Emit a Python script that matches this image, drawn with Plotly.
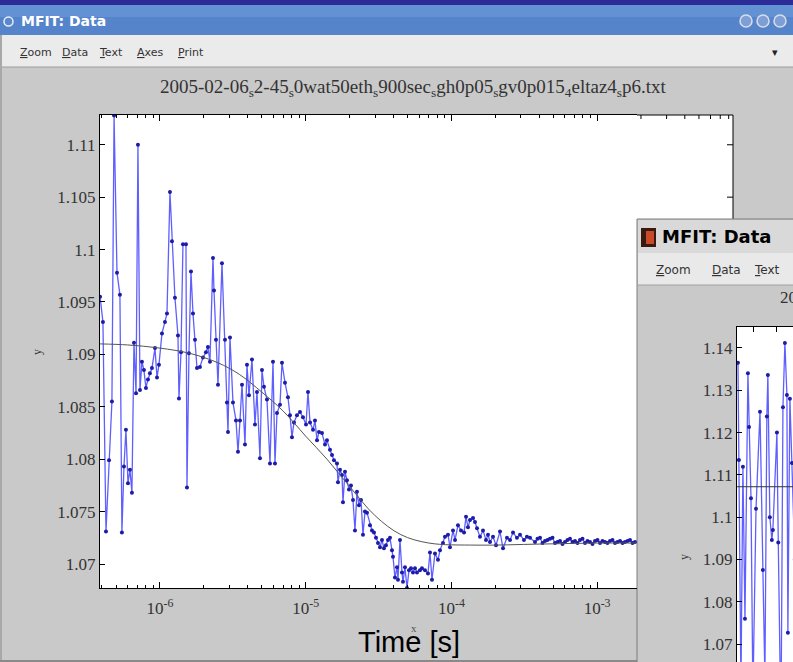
import math
import plotly.graph_objects as go

W, H = 793, 662

# ---------------- data (lag time in microseconds, correlation value) ----------------
t_us = [0.388, 0.406, 0.426, 0.447, 0.468, 0.484, 0.507, 0.531, 0.548, 0.566, 0.584, 0.603,
        0.622, 0.642, 0.663, 0.685, 0.706, 0.729, 0.752, 0.776, 0.801, 0.827, 0.853, 0.881,
        0.924, 0.954, 0.984, 1.032, 1.082, 1.117, 1.171, 1.209, 1.267, 1.329, 1.350, 1.394,
        1.438, 1.508, 1.532, 1.581, 1.632, 1.685, 1.739, 1.795, 1.881, 1.972, 2.068, 2.134,
        2.203, 2.311, 2.348, 2.423, 2.501, 2.664, 2.794, 2.883, 2.929, 3.023, 3.170, 3.324,
        3.431, 3.541, 3.655, 3.832, 3.955, 4.082, 4.280, 4.487, 4.631, 4.857, 5.012, 5.173,
        5.424, 5.689, 5.965, 6.156, 6.354, 6.663, 6.876, 7.210, 7.560, 7.803, 8.053, 8.312,
        8.716, 9.139, 9.583, 10.05, 10.37, 10.71, 11.23, 11.58, 11.96, 12.34, 12.94, 13.57,
        14.00, 14.68, 15.16, 15.64, 16.40, 16.66, 17.20, 17.75, 18.03, 18.61, 19.20, 19.82,
        20.46, 21.12, 21.79, 22.49, 23.22, 23.97, 24.73, 25.53, 26.35, 27.62, 28.51, 29.43,
        30.37, 31.35, 32.36, 33.39, 34.46, 35.57, 36.71, 37.89, 39.11, 39.73, 41.01, 42.32,
        43.00, 44.38, 45.81, 46.54, 48.03, 49.57, 51.16, 52.81, 54.50, 56.25, 58.06, 60.88,
        62.84, 65.88, 69.08, 71.30, 73.59, 77.16, 80.91, 83.51, 87.57, 90.38, 94.77, 97.81,
        102.6, 105.9, 111.0, 116.4, 122.1, 126.0, 130.0, 134.2, 140.7, 145.2, 149.9, 157.1,
        164.8, 172.8, 178.3, 184.1, 193.0, 202.4, 215.6, 226.1, 240.7, 252.5, 264.8, 281.8,
        295.7, 314.8, 330.1, 346.4,
        374.8, 390.0, 405.7, 422.0, 438.9, 456.5, 475.1, 494.1, 514.0, 534.6,
        556.4, 578.7, 602.1, 626.2, 651.6, 677.7, 705.2, 733.5, 763.2, 793.8,
        826.0, 859.1, 894.0, 929.8, 967.4, 1006, 1047, 1089, 1133, 1178,
        1226, 1275, 1327, 1380, 1436, 1494, 1554, 1617, 1682, 1750, 1820]
g2 = [1.0955, 1.0931, 1.0731, 1.0799, 1.0855, 1.1128, 1.0978, 1.0957, 1.0730, 1.0793, 1.0828, 1.0777,
      1.0790, 1.0768, 1.0911, 1.0863, 1.1100, 1.0866, 1.0893, 1.0885, 1.0868, 1.0876, 1.0882, 1.0887,
      1.0906, 1.0878, 1.0890, 1.0920, 1.0931, 1.0939, 1.1055, 1.1008, 1.0954, 1.0918, 1.0858, 1.0902,
      1.1005, 1.1005, 1.0773, 1.0901, 1.0979, 1.0939, 1.0914, 1.0887, 1.0888, 1.0897, 1.0902, 1.0907,
      1.0893, 1.0992, 1.0961, 1.0914, 1.0871, 1.0987, 1.0914, 1.0854, 1.0826, 1.0916, 1.0854, 1.0837,
      1.0807, 1.0837, 1.0871, 1.0814, 1.0890, 1.0861, 1.0895, 1.0833, 1.0864, 1.0801, 1.0885, 1.0869,
      1.0857, 1.0796, 1.0893, 1.0796, 1.0844, 1.0852, 1.0892, 1.0873, 1.0859, 1.0842, 1.0821, 1.0835,
      1.0842, 1.0845, 1.0840, 1.0833, 1.0864, 1.0835, 1.0828, 1.0837, 1.0818, 1.0826, 1.0825, 1.0814,
      1.0818, 1.0809, 1.0804, 1.0799, 1.0796, 1.0778, 1.0790, 1.0785, 1.0759, 1.0788, 1.0780, 1.0771,
      1.0775, 1.0761, 1.0732, 1.0769, 1.0756, 1.0761, 1.0728, 1.0750, 1.0749, 1.0737, 1.0732, 1.0730,
      1.0725, 1.0720, 1.0716, 1.0723, 1.0715, 1.0718, 1.0723, 1.0725, 1.0713, 1.0707, 1.0687, 1.0697,
      1.0685, 1.0723, 1.0692, 1.0683, 1.0697, 1.0677, 1.0694, 1.0696, 1.0692, 1.0696, 1.0692, 1.0694,
      1.0696, 1.0694, 1.0691, 1.0711, 1.0685, 1.0710, 1.0704, 1.0713, 1.0720, 1.0726, 1.0728, 1.0716,
      1.0732, 1.0723, 1.0737, 1.0732, 1.0730, 1.0745, 1.0735, 1.0742, 1.0744, 1.0740, 1.0734, 1.0726,
      1.0732, 1.0723, 1.0728, 1.0721, 1.0726, 1.0718, 1.0731, 1.0715, 1.0725, 1.0723, 1.0730, 1.0725,
      1.0728, 1.0723, 1.0726, 1.0725,
      1.0721, 1.0724, 1.0725, 1.0720, 1.0722, 1.0723, 1.0724, 1.0725, 1.0720, 1.0721,
      1.0722, 1.0719, 1.0721, 1.0723, 1.0724, 1.0721, 1.0722, 1.0720, 1.0723, 1.0724,
      1.0720, 1.0722, 1.0721, 1.0719, 1.0722, 1.0723, 1.0720, 1.0722, 1.0721, 1.0720,
      1.0722, 1.0723, 1.0720, 1.0721, 1.0722, 1.0720, 1.0721, 1.0722, 1.0723, 1.0720, 1.0721]

fit_t_us = [0.388, 0.6, 1.0, 1.6, 2.5, 3.5, 5.0, 7.0, 10, 14, 20, 30, 45, 70, 150, 400, 1000, 1850]
fit_g2 = [1.0910, 1.0909, 1.0906, 1.0901, 1.0892, 1.0881, 1.0864, 1.0846, 1.0822, 1.0800, 1.0774,
          1.0746, 1.0728, 1.0720, 1.0718, 1.0719, 1.0720, 1.0720]

inset_t_us = [0.394, 0.400, 0.413, 0.426, 0.440, 0.461, 0.469, 0.484, 0.499, 0.524, 0.558, 0.584,
              0.603, 0.622, 0.632, 0.652, 0.673, 0.684, 0.729, 0.745, 0.777, 0.802, 0.827, 0.854,
              0.867, 0.895, 0.924, 0.968]
inset_g2 = [1.1365, 1.1135, 1.0600, 1.1119, 1.0760, 1.1340, 1.1213, 1.1045, 1.0580, 1.1020, 1.1249, 1.0875,
            1.0620, 1.1238, 1.1336, 1.1000, 1.0946, 1.0970, 1.1200, 1.0940, 1.0500, 1.1260, 1.1412, 1.1289,
            1.0727, 1.1280, 1.1128, 1.0900]
inset_fit_t_us = [0.388, 0.95]
inset_fit_g2 = [1.1072, 1.1072]

main_yticks = [1.07, 1.075, 1.08, 1.085, 1.09, 1.095, 1.1, 1.105, 1.11]
main_yticktext = ["1.07", "1.075", "1.08", "1.085", "1.09", "1.095", "1.1", "1.105", "1.11"]
main_xticks = [1e-6, 1e-5, 1e-4, 1e-3]
main_xticktext = ["10<sup>-6</sup>", "10<sup>-5</sup>", "10<sup>-4</sup>", "10<sup>-3</sup>"]
inset_yticks = [1.07, 1.08, 1.09, 1.1, 1.11, 1.12, 1.13, 1.14]
inset_yticktext = ["1.07", "1.08", "1.09", "1.1", "1.11", "1.12", "1.13", "1.14"]
menu_items = ["Zoom", "Data", "Text", "Axes", "Print"]
file_title = ("2005-02-06<sub>s</sub>2-45<sub>s</sub>0wat50eth<sub>s</sub>900sec<sub>s</sub>gh0p05"
              "<sub>s</sub>gv0p015<sub>4</sub>eltaz4<sub>s</sub>p6.txt")

# ---------------- layout geometry (pixels) ----------------
def px(x):
    return x / W

def py(y):
    return 1 - y / H

MAIN_L, MAIN_R_VIS, MAIN_R, MAIN_T, MAIN_B = 100, 637, 733, 115, 588
INS_X, INS_Y = 637, 219
INS_PL, INS_PT = 737, 327

x_lo = math.log10(0.3876e-6)
x_hi = -6 + (MAIN_R_VIS - 160) / 145.7
y_lo, y_hi = 1.06771, 1.11284
ix_lo = math.log10(0.388e-6)
ix_hi = ix_lo + (W - INS_PL) / 145.7
iy_lo, iy_hi = 1.06577, 1.14496

GRAY = "#c9c9c9"
serif = "Liberation Serif, Times New Roman, serif"
sans = "DejaVu Sans, Noto Sans, sans-serif"

fig = go.Figure()
fig.add_trace(go.Scatter(x=[v * 1e-6 for v in t_us], y=g2, mode="lines+markers",
                         line=dict(color="rgb(95,95,255)", width=1.3),
                         marker=dict(color="#1c1ca8", size=4), xaxis="x", yaxis="y",
                         showlegend=False))
fig.add_trace(go.Scatter(x=[v * 1e-6 for v in fit_t_us], y=fit_g2, mode="lines",
                         line=dict(color="#555555", width=1, shape="spline"), xaxis="x", yaxis="y",
                         showlegend=False))
fig.add_trace(go.Scatter(x=[v * 1e-6 for v in inset_t_us], y=inset_g2, mode="lines+markers",
                         line=dict(color="rgb(95,95,255)", width=1.3),
                         marker=dict(color="#1c1ca8", size=4), xaxis="x2", yaxis="y2",
                         showlegend=False))
fig.add_trace(go.Scatter(x=[v * 1e-6 for v in inset_fit_t_us], y=inset_fit_g2, mode="lines",
                         line=dict(color="#333333", width=1), xaxis="x2", yaxis="y2",
                         showlegend=False))

shapes = []
def rect(x0, y0, x1, y1, fill, line=None, lw=0):
    shapes.append(dict(type="rect", xref="paper", yref="paper", x0=px(x0), x1=px(x1),
                       y0=py(y1), y1=py(y0), fillcolor=fill, layer="below",
                       line=dict(color=line or fill, width=lw)))
def seg(x0, y0, x1, y1, color="black", w=1):
    shapes.append(dict(type="line", xref="paper", yref="paper", x0=px(x0), x1=px(x1),
                       y0=py(y0), y1=py(y1), layer="below", line=dict(color=color, width=w)))

# main window chrome
rect(0, 0, W, 5, "#2c2c98")
rect(0, 5, W, 35, "#5584cb")
rect(0, 5, W, 17, "#6392d4")
rect(0, 35, W, 67, "#ebebeb")
seg(0, 67, W, 67, "#9c9c9c", 1)
seg(1, 35, 1, H, "#a8a8a8", 2)
seg(0, H - 1, W, H - 1, "#8a8a8a", 2)
# main plot area (white)
rect(MAIN_L, MAIN_T, MAIN_R, MAIN_B, "white")
# visible extension of the main axes box
seg(MAIN_R_VIS, MAIN_T, MAIN_R, MAIN_T, "black", 1)
seg(MAIN_R, MAIN_T, MAIN_R, INS_Y, "black", 1)

# top minor ticks beyond the subplot domain, placed on the log scale
def xpix(t):
    return MAIN_L + (math.log10(t) - x_lo) / (x_hi - x_lo) * (MAIN_R_VIS - MAIN_L)
for m in range(2, 9):
    xp = xpix(m * 1e-3)
    if MAIN_R_VIS < xp < MAIN_R:
        seg(xp, MAIN_T, xp, MAIN_T + 4, "black", 1)
for v in [1.11, 1.105]:
    shapes.append(dict(type="line", xref="paper", yref="y", x0=px(MAIN_R - 6), x1=px(MAIN_R),
                       y0=v, y1=v, layer="below", line=dict(color="black", width=1)))

# inset window
rect(INS_X, INS_Y, W + 2, H + 2, GRAY, "#7d7d7d", 1)
rect(INS_X + 1, INS_Y + 1, W, 253, "#d9d9d9")
rect(INS_X + 1, 253, W, 285, "#e9e9e9")
seg(INS_X + 1, 285, W, 285, "#a0a0a0", 1)
rect(INS_PL, INS_PT, W + 2, H + 2, "white")
rect(641, 228, 656, 247, "#3a1a10")
rect(646, 231, 654, 244, "#c84a28")

# title bar circles
shapes.append(dict(type="circle", xref="paper", yref="paper", x0=px(4), x1=px(13), y0=py(26), y1=py(17),
                   line=dict(color="#e8eef8", width=1.5), fillcolor="#5a88cc", layer="below"))
for cx in [746, 763, 780]:
    shapes.append(dict(type="circle", xref="paper", yref="paper", x0=px(cx - 6), x1=px(cx + 6),
                       y0=py(27), y1=py(15), line=dict(color="#d8dde8", width=1.5),
                       fillcolor="#7d9fd6", layer="below"))

annotations = []
def text(x, y, s, size, color="black", family=sans, xanchor="center", angle=0, yanchor="middle"):
    annotations.append(dict(x=px(x), y=py(y), xref="paper", yref="paper", text=s, showarrow=False,
                            xanchor=xanchor, yanchor=yanchor, textangle=angle,
                            font=dict(size=size, color=color, family=family)))

text(19, 21, "<b>MFIT: Data</b>", 14, "white", xanchor="left")
menu_x = [18, 60, 97, 135, 176]
for mx, item in zip(menu_x, menu_items):
    text(mx, 52, "<u>" + item[0] + "</u>" + item[1:], 11, "#333333", xanchor="left")
text(775, 52, "▾", 11, "#222222")
text(414, 88, file_title, 19, "#333333", family=serif)
text(37, 352, "y", 12, "#333333", family=serif, angle=-90)
text(414, 628, "x", 11, "#555555", family=serif)
text(409, 642, "Time [s]", 29, "black", family="Liberation Sans, Arial, sans-serif")

# inset texts
text(660, 237, "<b>MFIT: Data</b>", 18, "black", xanchor="left")
inset_menu_x = [654, 710, 752]
for mx, item in zip(inset_menu_x, ["Zoom", "Data", "Text"]):
    text(mx, 270, "<u>" + item[0] + "</u>" + item[1:], 12, "#333333", xanchor="left")
text(778, 299, file_title, 17, "#333333", family=serif, xanchor="left")
text(684, 557, "y", 12, "#333333", family=serif, angle=-90)

minor_vals = [m * 10 ** e for e in range(-7, -2) for m in range(2, 10)]

fig.update_layout(
    width=W, height=H, margin=dict(l=0, r=0, t=0, b=0), autosize=False,
    paper_bgcolor=GRAY, plot_bgcolor="rgba(0,0,0,0)",
    shapes=shapes, annotations=annotations, showlegend=False,
    xaxis=dict(type="log", range=[x_lo, x_hi], domain=[px(MAIN_L), px(MAIN_R_VIS)],
               anchor="y", tickvals=main_xticks, ticktext=main_xticktext,
               ticks="inside", ticklen=6, tickcolor="black", showline=True, linecolor="black",
               linewidth=1, mirror="ticks", showgrid=False, zeroline=False, ticklabelstandoff=5,
               tickfont=dict(family=serif, size=17, color="#333333"),
               minor=dict(tickvals=minor_vals, ticks="inside", ticklen=3, tickcolor="black",
                          showgrid=False)),
    yaxis=dict(range=[y_lo, y_hi], domain=[py(MAIN_B), py(MAIN_T)], anchor="x",
               tickvals=main_yticks, ticktext=main_yticktext, ticks="inside", ticklen=5,
               tickcolor="black", showline=True, linecolor="black", linewidth=1, mirror=False,
               showgrid=False, zeroline=False,
               tickfont=dict(family=serif, size=17, color="#333333")),
    xaxis2=dict(type="log", range=[ix_lo, ix_hi], domain=[px(INS_PL), 1], anchor="y2", side="top",
                tickvals=[5e-7, 7.3e-7], ticks="inside", ticklen=5, tickcolor="black",
                showticklabels=False, showline=True, linecolor="black", linewidth=1,
                showgrid=False, zeroline=False),
    yaxis2=dict(range=[iy_lo, iy_hi], domain=[0, py(INS_PT)], anchor="x2",
                tickvals=inset_yticks, ticktext=inset_yticktext, ticks="inside", ticklen=5,
                tickcolor="black", showline=True, linecolor="black", linewidth=1,
                showgrid=False, zeroline=False,
                tickfont=dict(family=serif, size=17, color="#333333")),
)

fig.write_html("out.html", config={"displayModeBar": False},
               post_script="document.body.style.margin='0px';document.body.style.overflow='hidden';")
